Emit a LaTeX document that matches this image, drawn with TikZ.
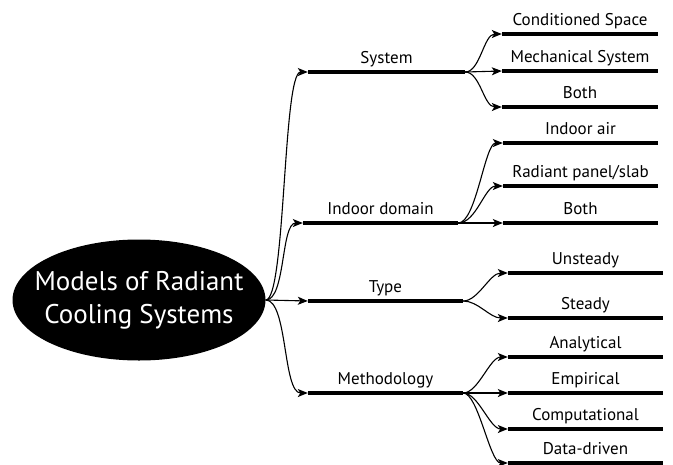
\documentclass[tikz,border=0pt]{standalone}
\usepackage{fontspec}
\setmainfont{PT Sans}
\usepackage{tikz}
\usetikzlibrary{arrows.meta}
\usetikzlibrary{positioning,shapes.geometric}

\begin{document}
\begin{tikzpicture}[
x=1pt,y=-1pt,
label distance=2.5pt,
RootNode/.style={ellipse,fill=black,text=white,minimum width=253pt,minimum height=121pt,inner xsep=-30pt,inner ysep=0pt,align=center,font=\fontsize{27}{33}\selectfont},
Bars/.style={fill=black,minimum height=4.5pt,inner sep=0pt},
BarLabel/.style={font=\fontsize{17}{20}\selectfont,text height=12pt,text depth=3pt,inner sep=0pt},
Links/.style={black,line width=1.1pt,-{Stealth[length=10pt,width=8pt,inset=2.5pt]}}
]
\useasboundingbox (0,0) rectangle (673,464);

\node[RootNode] (root) at (139,300) {Models of Radiant\\Cooling Systems};

% first level
\node[Bars,minimum width=157pt,label={[BarLabel]above:System}] (system) at (386.5,72) {};
\node[Bars,minimum width=155pt,label={[BarLabel]above:Indoor domain}] (indoor) at (380.5,223) {};
\node[Bars,minimum width=155pt,label={[BarLabel]above:Type}] (type) at (385.5,301) {};
\node[Bars,minimum width=155pt,label={[BarLabel]above:Methodology}] (method) at (385.5,393) {};

% second level
\node[Bars,minimum width=156pt,label={[BarLabel]above:Conditioned Space}] (space) at (580,34) {};
\node[Bars,minimum width=156pt,label={[BarLabel]above:Mechanical System}] (mech) at (580,71) {};
\node[Bars,minimum width=156pt,label={[BarLabel]above:Both}] (sysboth) at (580,107) {};

\node[Bars,minimum width=155pt,label={[BarLabel]above:Indoor air}] (air) at (580.5,143) {};
\node[Bars,minimum width=155pt,label={[BarLabel]above:Radiant panel/slab}] (panel) at (580.5,186) {};
\node[Bars,minimum width=155pt,label={[BarLabel]above:Both}] (indboth) at (580.5,223) {};

\node[Bars,minimum width=155pt,label={[BarLabel]above:Unsteady}] (unsteady) at (585.5,273) {};
\node[Bars,minimum width=155pt,label={[BarLabel]above:Steady}] (steady) at (585.5,318) {};

\node[Bars,minimum width=155pt,label={[BarLabel]above:Analytical}] (analytical) at (585.5,357) {};
\node[Bars,minimum width=155pt,label={[BarLabel]above:Empirical}] (empirical) at (585.5,393) {};
\node[Bars,minimum width=155pt,label={[BarLabel]above:Computational}] (computational) at (585.5,429) {};
\node[Bars,minimum width=155pt,label={[BarLabel]above:Data-driven}] (datadriven) at (585.5,463) {};

\draw[Links] (root.east) .. controls +(20,0) and +(-25,0) .. (system.west);
\draw[Links] (root.east) .. controls +(20,0) and +(-22,0) .. (indoor.west);
\draw[Links] (root.east) -- (type.west);
\draw[Links] (root.east) .. controls +(22,0) and +(-25,0) .. (method.west);

\draw[Links] (system.east) .. controls +(15,0) and +(-18,0) .. (space.west);
\draw[Links] (system.east) -- (mech.west);
\draw[Links] (system.east) .. controls +(15,0) and +(-18,0) .. (sysboth.west);

\draw[Links] (indoor.east) .. controls +(18,0) and +(-18,0) .. (air.west);
\draw[Links] (indoor.east) .. controls +(18,0) and +(-18,0) .. (panel.west);
\draw[Links] (indoor.east) -- (indboth.west);

\draw[Links] (type.east) .. controls +(15,0) and +(-18,0) .. (unsteady.west);
\draw[Links] (type.east) .. controls +(15,0) and +(-18,0) .. (steady.west);

\draw[Links] (method.east) .. controls +(15,0) and +(-18,0) .. (analytical.west);
\draw[Links] (method.east) -- (empirical.west);
\draw[Links] (method.east) .. controls +(15,0) and +(-18,0) .. (computational.west);
\draw[Links] (method.east) .. controls +(15,0) and +(-18,0) .. (datadriven.west);

\end{tikzpicture}
\end{document}
